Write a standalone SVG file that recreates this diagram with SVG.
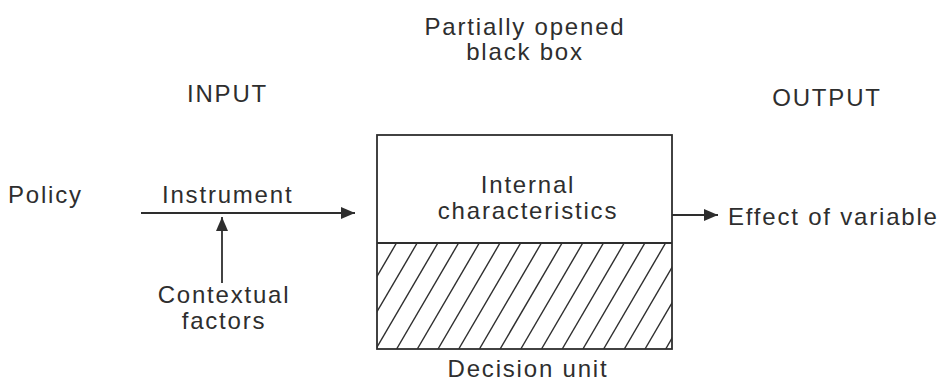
<svg xmlns="http://www.w3.org/2000/svg" width="946" height="387" viewBox="0 0 946 387">
<style>
text{font-family:"Liberation Sans",Arial,sans-serif;font-size:24px;fill:#2e2e2e;letter-spacing:1.8px}
.m{text-anchor:middle}
.ln{stroke:#2e2e2e;stroke-width:1.8;fill:none}
.h{stroke:#2e2e2e;stroke-width:1.4}
</style>
<defs>
<marker id="ah" viewBox="0 0 14 12" refX="14" refY="6" markerWidth="14" markerHeight="12" markerUnits="userSpaceOnUse" orient="auto">
<path d="M0,0 L14,6 L0,12 Z" fill="#2e2e2e"/>
</marker>
<clipPath id="hc"><rect x="377" y="243" width="295" height="106"/></clipPath>
</defs>
<rect width="946" height="387" fill="#fff"/>
<g id="title">
<text class="m" x="525" y="35">Partially opened</text>
<text class="m" x="525" y="60">black box</text>
</g>
<g id="input-label"><text x="187" y="102">INPUT</text></g>
<g id="output-label"><text class="m" x="827" y="106">OUTPUT</text></g>
<g id="policy"><text x="8" y="203">Policy</text></g>
<g id="instrument"><text x="162" y="203">Instrument</text></g>
<g id="contextual">
<text class="m" x="224" y="303">Contextual</text>
<text class="m" x="224" y="329">factors</text>
</g>
<g id="decision-unit">
<g clip-path="url(#hc)">
<line class="h" x1="272.4" y1="349" x2="334.4" y2="243"/>
<line class="h" x1="293.1" y1="349" x2="355.1" y2="243"/>
<line class="h" x1="313.8" y1="349" x2="375.8" y2="243"/>
<line class="h" x1="334.5" y1="349" x2="396.5" y2="243"/>
<line class="h" x1="355.2" y1="349" x2="417.2" y2="243"/>
<line class="h" x1="375.9" y1="349" x2="437.9" y2="243"/>
<line class="h" x1="396.6" y1="349" x2="458.6" y2="243"/>
<line class="h" x1="417.3" y1="349" x2="479.3" y2="243"/>
<line class="h" x1="438" y1="349" x2="500" y2="243"/>
<line class="h" x1="458.7" y1="349" x2="520.7" y2="243"/>
<line class="h" x1="479.4" y1="349" x2="541.4" y2="243"/>
<line class="h" x1="500.1" y1="349" x2="562.1" y2="243"/>
<line class="h" x1="520.8" y1="349" x2="582.8" y2="243"/>
<line class="h" x1="541.5" y1="349" x2="603.5" y2="243"/>
<line class="h" x1="562.2" y1="349" x2="624.2" y2="243"/>
<line class="h" x1="582.9" y1="349" x2="644.9" y2="243"/>
<line class="h" x1="603.6" y1="349" x2="665.6" y2="243"/>
<line class="h" x1="624.3" y1="349" x2="686.3" y2="243"/>
<line class="h" x1="645" y1="349" x2="707" y2="243"/>
<line class="h" x1="665.7" y1="349" x2="727.7" y2="243"/>
</g>
<rect class="ln" x="377" y="135" width="295" height="214"/>
<line class="ln" x1="377" y1="243" x2="672" y2="243"/>
<text class="m" x="528" y="193">Internal</text>
<text class="m" x="528" y="219">characteristics</text>
<text class="m" x="528" y="377">Decision unit</text>
</g>
<g id="effect"><text x="728" y="225">Effect of variable</text></g>
<g id="connectors">
<line class="ln" x1="141" y1="213" x2="355" y2="213" marker-end="url(#ah)"/>
<line class="ln" x1="222" y1="283" x2="222" y2="217" marker-end="url(#ah)"/>
<line class="ln" x1="672" y1="215" x2="718" y2="215" marker-end="url(#ah)"/>
</g>
</svg>
